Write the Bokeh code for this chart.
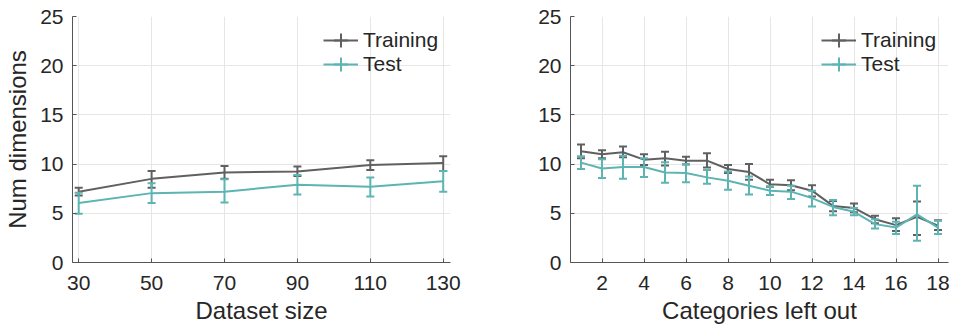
from bokeh.plotting import figure
from bokeh.models import Range1d, FixedTicker, Legend, LegendItem
from bokeh.layouts import row
from bokeh.embed import file_html
from bokeh.resources import INLINE

# ---- data: left panel (dataset size) ----
size_x = [30, 50, 70, 90, 110, 130]
size_train = [7.2, 8.5, 9.15, 9.25, 9.9, 10.1]
size_train_lo = [6.8, 7.6, 8.5, 8.8, 9.4, 9.3]
size_train_hi = [7.6, 9.3, 9.8, 9.75, 10.4, 10.8]
size_test = [6.05, 7.05, 7.2, 7.9, 7.7, 8.25]
size_test_lo = [4.95, 6.05, 6.1, 6.9, 6.7, 7.2]
size_test_hi = [7.1, 8.05, 8.45, 8.9, 8.65, 9.3]

# ---- data: right panel (categories left out) ----
cat_x = list(range(1, 19))
cat_train = [11.3, 11.0, 11.2, 10.45, 10.6, 10.35, 10.35, 9.5, 9.2, 7.95, 7.85, 7.3, 5.75, 5.55, 4.4, 3.8, 4.65, 3.75]
cat_train_lo = [10.6, 10.6, 10.7, 9.9, 9.85, 9.95, 9.65, 9.1, 8.4, 7.7, 7.35, 6.7, 5.2, 5.1, 4.0, 3.2, 2.8, 3.3]
cat_train_hi = [12.0, 11.4, 11.8, 11.0, 11.25, 10.75, 11.1, 9.9, 10.0, 8.4, 8.35, 7.85, 6.25, 6.0, 4.75, 4.5, 6.2, 4.3]
cat_test = [10.15, 9.55, 9.7, 9.7, 9.15, 9.1, 8.65, 8.3, 7.8, 7.3, 7.2, 6.55, 5.65, 5.15, 3.9, 3.55, 4.9, 3.55]
cat_test_lo = [9.5, 8.6, 8.5, 8.7, 8.1, 8.15, 8.0, 7.4, 6.9, 6.85, 6.45, 5.7, 4.8, 4.8, 3.45, 2.9, 2.2, 2.9]
cat_test_hi = [10.8, 10.5, 10.85, 10.6, 10.2, 10.0, 9.4, 9.25, 8.75, 7.75, 7.8, 7.3, 6.35, 5.55, 4.4, 4.15, 7.8, 4.25]

y_ticks = [0, 5, 10, 15, 20, 25]
size_ticks = [30, 50, 70, 90, 110, 130]
cat_ticks = [2, 4, 6, 8, 10, 12, 14, 16, 18]
series_names = ["Training", "Test"]

GRAY = "#606060"
TEAL = "#5cb4b3"
TXT = "#262626"
FONT = "Liberation Sans"


def series(p, xs, ys, lo, hi, color):
    ln = p.line(xs, ys, line_color=color, line_width=2)
    p.segment(x0=xs, y0=lo, x1=xs, y1=hi, line_color=color, line_width=2)
    p.scatter(xs, lo, marker="dash", size=8, line_color=color, line_width=2)
    p.scatter(xs, hi, marker="dash", size=8, line_color=color, line_width=2)
    tick = p.scatter(xs, ys, marker="cross", size=0, line_color=color, line_width=2)
    return [ln, tick]


def legend_box(label, renderers, loc):
    return Legend(items=[LegendItem(label=label, renderers=renderers)],
                  location=loc, padding=0, margin=0, spacing=0,
                  glyph_width=35, glyph_height=40, label_standoff=5,
                  label_text_font=FONT, label_text_font_size="21px",
                  label_text_color=TXT, border_line_color=None,
                  background_fill_alpha=0)


def make(xs, tr, trlo, trhi, te, telo, tehi, xr, xticks, xlabel, ylabel,
         width, bl, br):
    p = figure(width=width, height=329, x_range=Range1d(*xr), y_range=Range1d(0, 25),
               output_backend="svg", toolbar_location=None,
               min_border_left=bl, min_border_right=br,
               min_border_top=16, min_border_bottom=67)
    p.outline_line_color = None
    p.background_fill_color = "white"
    for ax in (p.xaxis[0], p.yaxis[0]):
        ax.axis_line_color = "#555555"
        ax.axis_line_width = 1
        ax.major_tick_line_color = "#555555"
        ax.major_tick_in = 4
        ax.major_tick_out = 0
        ax.minor_tick_line_color = None
        ax.major_label_text_font = FONT
        ax.major_label_text_font_size = "21px"
        ax.major_label_text_color = TXT
        ax.axis_label_text_font = FONT
        ax.axis_label_text_font_size = "24px"
        ax.axis_label_text_font_style = "normal"
        ax.axis_label_text_color = TXT
    p.xaxis.major_label_standoff = 13
    p.yaxis.major_label_standoff = 9
    p.xaxis.ticker = FixedTicker(ticks=xticks)
    p.yaxis.ticker = FixedTicker(ticks=y_ticks)
    p.xaxis.axis_label = xlabel
    p.xaxis.axis_label_standoff = 4
    if ylabel:
        p.yaxis.axis_label = ylabel
        p.yaxis.axis_label_standoff = 6
    p.xgrid.grid_line_color = "#e6e6e6"
    p.ygrid.grid_line_color = "#e6e6e6"

    r_tr = series(p, xs, tr, trlo, trhi, GRAY)
    r_te = series(p, xs, te, telo, tehi, TEAL)

    p.add_layout(legend_box(series_names[0], r_tr, (251, 202)))
    p.add_layout(legend_box(series_names[1], r_te, (251, 178)))
    return p


p1 = make(size_x, size_train, size_train_lo, size_train_hi,
          size_test, size_test_lo, size_test_hi,
          (28.3, 132), size_ticks, "Dataset size", "Num dimensions",
          480, 72, 30)
p2 = make(cat_x, cat_train, cat_train_lo, cat_train_hi,
          cat_test, cat_test_lo, cat_test_hi,
          (0.5, 18.5), cat_ticks, "Categories left out", None,
          474, 90, 6)

p = row(p1, p2)
open("out.html", "w").write(file_html(p, INLINE))
